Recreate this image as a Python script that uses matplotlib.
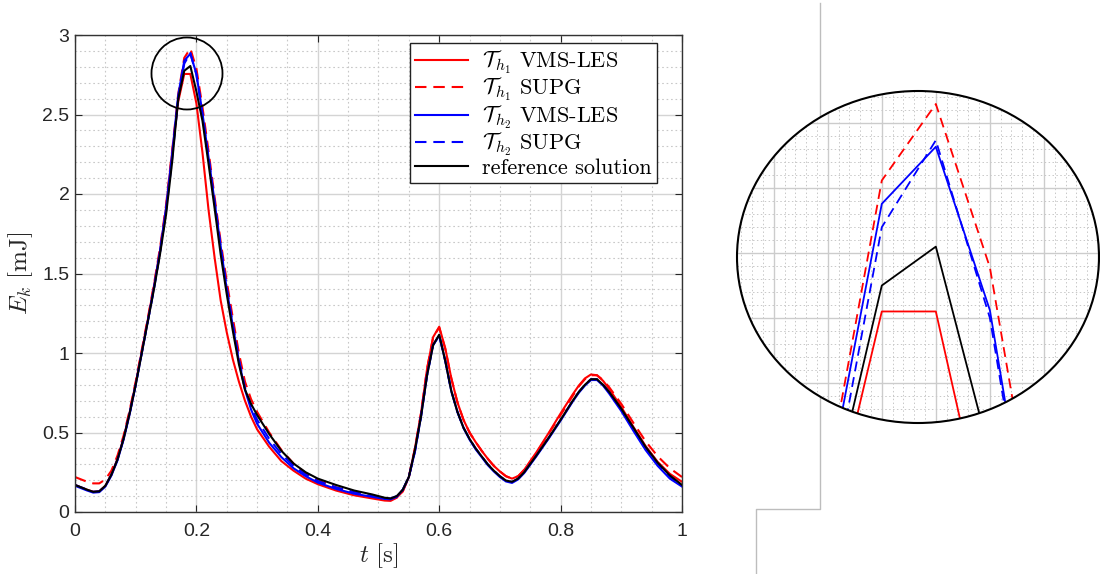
import matplotlib
matplotlib.use('Agg')
import matplotlib.pyplot as plt
import numpy as np
from matplotlib.patches import Ellipse
from matplotlib.lines import Line2D
from matplotlib.ticker import MultipleLocator, FuncFormatter

plt.rcParams['mathtext.fontset'] = 'cm'
plt.rcParams['font.family'] = ['Liberation Sans', 'DejaVu Sans']

t = [0, 0.01, 0.02, 0.03, 0.04, 0.05, 0.06, 0.07, 0.08, 0.09,
     0.10, 0.11, 0.12, 0.13, 0.14, 0.15, 0.16, 0.17, 0.18, 0.19,
     0.20, 0.21, 0.22, 0.23, 0.24, 0.25, 0.26, 0.27, 0.28, 0.29,
     0.30, 0.32, 0.34, 0.36, 0.38, 0.40, 0.43, 0.46, 0.49, 0.51,
     0.52, 0.53, 0.54, 0.55, 0.56, 0.57, 0.58, 0.59, 0.60, 0.61,
     0.62, 0.63, 0.64, 0.65, 0.66, 0.67, 0.68, 0.69, 0.70, 0.71,
     0.72, 0.73, 0.74, 0.76, 0.78, 0.80, 0.82, 0.83, 0.84, 0.85,
     0.86, 0.87, 0.88, 0.90, 0.92, 0.94, 0.96, 0.98, 1.00]

h1_vms = [0.17, 0.155, 0.14, 0.127, 0.13, 0.165, 0.235, 0.335, 0.465, 0.625,
          0.81, 1.01, 1.21, 1.42, 1.64, 1.91, 2.26, 2.58, 2.755, 2.755,
          2.57, 2.26, 1.90, 1.60, 1.33, 1.13, 0.96, 0.82, 0.70, 0.60,
          0.52, 0.41, 0.32, 0.26, 0.21, 0.175, 0.135, 0.105, 0.085, 0.072,
          0.07, 0.09, 0.13, 0.22, 0.40, 0.62, 0.90, 1.10, 1.165, 1.03,
          0.84, 0.69, 0.58, 0.50, 0.44, 0.385, 0.335, 0.29, 0.255, 0.225,
          0.21, 0.225, 0.265, 0.375, 0.495, 0.62, 0.74, 0.795, 0.84, 0.865,
          0.86, 0.825, 0.775, 0.66, 0.535, 0.415, 0.315, 0.24, 0.19]

h1_supg = [0.22, 0.205, 0.19, 0.18, 0.18, 0.205, 0.26, 0.355, 0.48, 0.64,
           0.82, 1.02, 1.22, 1.43, 1.66, 1.93, 2.27, 2.628, 2.856, 2.915,
           2.789, 2.547, 2.27, 1.98, 1.70, 1.45, 1.22, 1.00, 0.82, 0.71,
           0.63, 0.50, 0.39, 0.305, 0.245, 0.20, 0.155, 0.12, 0.095, 0.083,
           0.08, 0.09, 0.13, 0.22, 0.40, 0.62, 0.90, 1.10, 1.16, 1.025,
           0.84, 0.69, 0.58, 0.50, 0.44, 0.385, 0.335, 0.29, 0.255, 0.225,
           0.21, 0.225, 0.265, 0.37, 0.49, 0.61, 0.73, 0.79, 0.835, 0.86,
           0.86, 0.83, 0.785, 0.68, 0.56, 0.445, 0.35, 0.275, 0.22]

h2_vms = [0.165, 0.15, 0.135, 0.122, 0.125, 0.16, 0.23, 0.325, 0.455, 0.615,
          0.80, 1.00, 1.20, 1.41, 1.64, 1.91, 2.25, 2.62, 2.838, 2.882,
          2.756, 2.507, 2.23, 1.95, 1.67, 1.40, 1.17, 0.95, 0.77, 0.645,
          0.555, 0.435, 0.345, 0.275, 0.225, 0.185, 0.145, 0.115, 0.095, 0.082,
          0.08, 0.095, 0.14, 0.22, 0.38, 0.60, 0.86, 1.05, 1.11, 0.95,
          0.76, 0.63, 0.53, 0.455, 0.395, 0.345, 0.295, 0.255, 0.22, 0.192,
          0.183, 0.205, 0.245, 0.35, 0.46, 0.575, 0.695, 0.75, 0.795, 0.83,
          0.83, 0.795, 0.745, 0.635, 0.51, 0.39, 0.29, 0.21, 0.16]

h2_supg = [0.17, 0.155, 0.14, 0.127, 0.13, 0.165, 0.235, 0.33, 0.46, 0.62,
           0.80, 1.00, 1.20, 1.40, 1.63, 1.89, 2.22, 2.596, 2.82, 2.887,
           2.75, 2.50, 2.23, 1.95, 1.67, 1.41, 1.18, 0.96, 0.78, 0.665,
           0.58, 0.46, 0.365, 0.29, 0.235, 0.195, 0.155, 0.125, 0.10, 0.087,
           0.085, 0.10, 0.14, 0.22, 0.38, 0.60, 0.86, 1.05, 1.11, 0.95,
           0.76, 0.63, 0.53, 0.46, 0.40, 0.35, 0.30, 0.26, 0.225, 0.197,
           0.188, 0.21, 0.25, 0.355, 0.465, 0.58, 0.70, 0.755, 0.80, 0.835,
           0.835, 0.80, 0.755, 0.645, 0.52, 0.40, 0.30, 0.22, 0.17]

reference = [0.17, 0.155, 0.14, 0.127, 0.13, 0.165, 0.235, 0.33, 0.46, 0.62,
             0.80, 1.00, 1.20, 1.40, 1.62, 1.87, 2.20, 2.597, 2.775, 2.805,
             2.645, 2.46, 2.19, 1.91, 1.62, 1.37, 1.14, 0.93, 0.77, 0.68,
             0.61, 0.49, 0.385, 0.305, 0.25, 0.21, 0.17, 0.135, 0.11, 0.09,
             0.085, 0.10, 0.14, 0.22, 0.39, 0.60, 0.86, 1.05, 1.115, 0.95,
             0.76, 0.63, 0.53, 0.46, 0.40, 0.35, 0.30, 0.26, 0.225, 0.198,
             0.19, 0.21, 0.25, 0.355, 0.465, 0.58, 0.70, 0.755, 0.80, 0.835,
             0.835, 0.80, 0.755, 0.65, 0.53, 0.41, 0.31, 0.23, 0.17]

series = [
    (h1_vms, 'r', '-', r'$\mathcal{T}_{h_1}$ VMS-LES'),
    (h1_supg, 'r', '--', r'$\mathcal{T}_{h_1}$ SUPG'),
    (h2_vms, 'b', '-', r'$\mathcal{T}_{h_2}$ VMS-LES'),
    (h2_supg, 'b', '--', r'$\mathcal{T}_{h_2}$ SUPG'),
    (reference, 'k', '-', 'reference solution'),
]

fig = plt.figure(figsize=(11, 5.74), dpi=100)
ax = fig.add_axes([75 / 1100, 1 - 512 / 574, 607 / 1100, 477 / 574])

for y, c, ls, lab in series:
    line, = ax.plot(t, y, color=c, ls=ls, lw=1.5, label=lab)
    if ls == '--':
        line.set_dashes((5.5, 3.3))

ax.set_xlim(0, 1)
ax.set_ylim(0, 3)
ax.xaxis.set_major_locator(MultipleLocator(0.2))
ax.xaxis.set_minor_locator(MultipleLocator(0.05))
ax.yaxis.set_major_locator(MultipleLocator(0.5))
ax.yaxis.set_minor_locator(MultipleLocator(0.1))
fmt = FuncFormatter(lambda v, p: f'{v:g}')
ax.xaxis.set_major_formatter(fmt)
ax.yaxis.set_major_formatter(fmt)
ax.grid(True, which='major', color='#d4d4d4', lw=1.0, ls='-')
ax.grid(True, which='minor', color='#c8c8c8', lw=0.8, ls=(0, (1.5, 2.5)))
ax.set_axisbelow(True)
ax.tick_params(which='major', direction='in', top=True, right=True,
               length=5, width=0.8, color='#262626', labelsize=14,
               labelcolor='#262626')
ax.tick_params(axis='x', pad=8)
ax.tick_params(axis='y', pad=4)
ax.tick_params(which='minor', length=0)
for s in ax.spines.values():
    s.set_color('#333333')
    s.set_linewidth(1.0)

ax.set_xlabel(r'$t\ [\mathrm{s}]$', fontsize=18, color='#262626', labelpad=1)
ax.set_ylabel(r'$E_k\ [\mathrm{mJ}]$', fontsize=18, color='#262626', labelpad=5)

leg = ax.legend(loc='upper right', bbox_to_anchor=(657 / 1100, 1 - 43 / 574),
                bbox_transform=fig.transFigure, borderaxespad=0,
                fancybox=False, framealpha=1, edgecolor='#222222',
                prop={'family': ['cmr10', 'DejaVu Serif'], 'size': 16},
                handlelength=2.4, handletextpad=0.6, labelspacing=0.0,
                borderpad=0.25)
leg.get_frame().set_linewidth(1.0)

# circle marking the zoomed region
ax.add_patch(Ellipse((0.1845, 2.758), 0.117, 0.453, fill=False,
                     ec='k', lw=1.3, clip_on=False, zorder=5))

# zoomed inset
axz = fig.add_axes([737 / 1100, 1 - 423 / 574, 362 / 1100, 332 / 574])
axz.patch.set_visible(False)
disk = Ellipse((0.5, 0.5), 1, 1, transform=axz.transAxes,
               fc='white', ec='none', zorder=0)
axz.add_patch(disk)
for y, c, ls, lab in series:
    line, = axz.plot(t, y, color=c, ls=ls, lw=1.3)
    if ls == '--':
        line.set_dashes((5.5, 3.3))
    line.set_clip_path(disk)
axz.set_xlim(0.1532, 0.2202)
axz.set_ylim(2.669, 2.925)
axz.xaxis.set_major_locator(MultipleLocator(0.01))
axz.xaxis.set_minor_locator(MultipleLocator(0.002))
axz.yaxis.set_major_locator(MultipleLocator(0.05))
axz.yaxis.set_minor_locator(MultipleLocator(0.01))
axz.grid(True, which='major', color='#cccccc', lw=1.0)
axz.grid(True, which='minor', color='#c8c8c8', lw=0.7, ls=(0, (1.5, 2.5)))
axz.set_axisbelow(True)
axz.tick_params(which='both', length=0, labelbottom=False, labelleft=False)
for s in axz.spines.values():
    s.set_visible(False)
axz.xaxis.set_clip_path(disk)
axz.yaxis.set_clip_path(disk)
axz.add_patch(Ellipse((0.5, 0.5), 1, 1, transform=axz.transAxes,
                      fill=False, ec='k', lw=1.5, clip_on=False, zorder=10))

# frame edge of the neighbouring panel
fig.add_artist(Line2D([820 / 1100, 820 / 1100, 756 / 1100, 756 / 1100],
                      [1 - 3 / 574, 1 - 509 / 574, 1 - 509 / 574, 0],
                      color='#bdbdbd', lw=1.0, zorder=-1))

fig.savefig('out.png', dpi=100)
